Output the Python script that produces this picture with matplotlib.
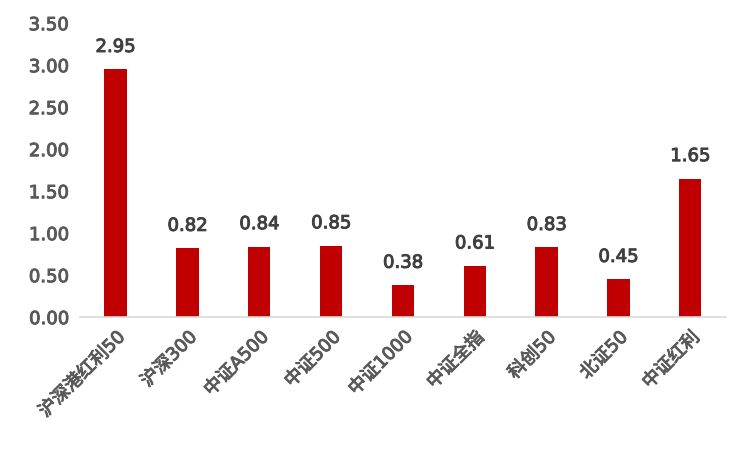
import matplotlib
matplotlib.use("Agg")
import matplotlib.pyplot as plt
import matplotlib.patheffects as pe

plt.rcParams['font.family'] = ['DejaVu Sans', 'Noto Sans CJK SC']

categories = ["沪深港红利50", "沪深300", "中证A500", "中证500", "中证1000",
              "中证全指", "科创50", "北证50", "中证红利"]
values = [2.95, 0.82, 0.84, 0.85, 0.38, 0.61, 0.83, 0.45, 1.65]
yticks = [0.0, 0.5, 1.0, 1.5, 2.0, 2.5, 3.0, 3.5]

bar_color = "#C00000"
text_color = "#595959"
label_color = "#404040"

# regular glyphs thickened a little, to get the semi-bold look of the original
thick = [pe.withStroke(linewidth=0.7, foreground=text_color)]
thick_label = [pe.withStroke(linewidth=0.7, foreground=label_color)]

fig = plt.figure(figsize=(7.38, 4.55), dpi=100)
ax = fig.add_axes([0.108, 0.303, 0.876, 0.646])

x = range(len(categories))
bars = ax.bar(x, values, width=0.31, color=bar_color, zorder=2)

for xi, v in zip(x, values):
  ax.text(xi, v + 0.16, "%.2f" % v, ha="center", va="bottom",
          fontsize=13, color=label_color, path_effects=thick_label)

ax.set_xlim(-0.5, len(categories) - 0.5)
ax.set_ylim(0, 3.5)
ax.set_yticks(yticks)
ax.set_yticklabels(["%.2f" % t for t in yticks], fontsize=13, color=text_color)
ax.set_xticks(list(x))
ax.set_xticklabels(categories, rotation=45, ha="right", rotation_mode="anchor",
                   fontsize=13, color=text_color)
for t in ax.get_xticklabels() + ax.get_yticklabels():
  t.set_path_effects(thick)

for side in ["top", "right", "left"]:
  ax.spines[side].set_visible(False)
ax.spines["bottom"].set_color("#D9D9D9")
ax.spines["bottom"].set_linewidth(1.2)
ax.tick_params(axis="both", length=0)
ax.tick_params(axis="y", pad=8)
ax.tick_params(axis="x", pad=8)

fig.savefig("out.png", dpi=100)
